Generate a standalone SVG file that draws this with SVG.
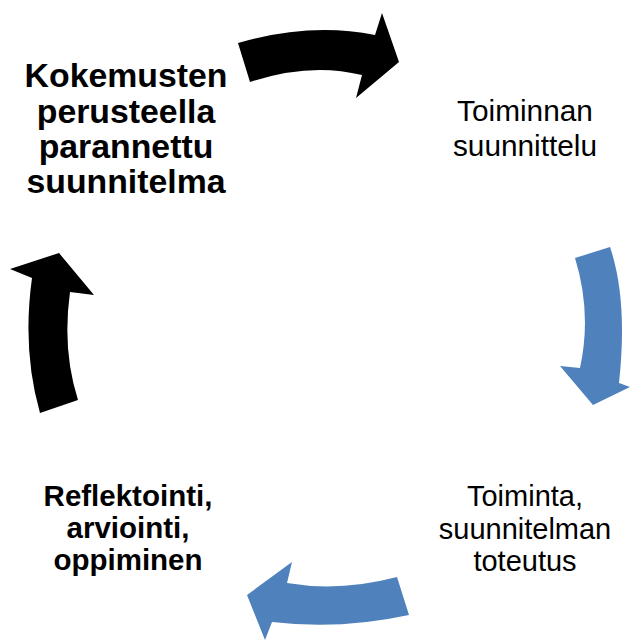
<svg xmlns="http://www.w3.org/2000/svg" width="630" height="642" viewBox="0 0 630 642">
<style>
.blk{fill:#000000}
.blu{fill:#4f81bd}
.tb{font-family:"Liberation Sans",Arial,sans-serif;font-weight:bold;fill:#000;text-anchor:middle}
.tr{font-family:"Liberation Sans",Arial,sans-serif;fill:#000;text-anchor:middle}
</style>
<rect width="630" height="642" fill="#ffffff"/>
<g id="connectors">
<path id="arrow-top" class="blk" d="M238,43 Q310,22 375,35 L382,13 L399,62 L356,98 L362,75 Q310,62 250,82 Z"/>
<path id="arrow-right" class="blu" d="M575,258 L610,247 Q628,300 619,383 L630,387 L593,405 L560,366 L580,368 Q592,313 575,258 Z"/>
<path id="arrow-bottom" class="blu" d="M397,577 Q340,592 287,583 L292,562 L247,595 L265,640 L272,622 Q340,630 409,615 Z"/>
<path id="arrow-left" class="blk" d="M40,413 Q22,350 32,278 L10,269 L59,253 L94,295 L70,292 Q62,350 78,400 Z"/>
</g>
<g id="node-plan">
<text class="tr" font-size="29.8" x="525" y="121">Toiminnan</text>
<text class="tr" font-size="29.8" x="525" y="156">suunnittelu</text>
</g>
<g id="node-action">
<text class="tr" font-size="29" x="525" y="506">Toiminta,</text>
<text class="tr" font-size="29" x="525" y="539">suunnitelman</text>
<text class="tr" font-size="29" x="525" y="571">toteutus</text>
</g>
<g id="node-reflect">
<text class="tb" font-size="29.5" x="128" y="506">Reflektointi,</text>
<text class="tb" font-size="29.5" x="128" y="538">arviointi,</text>
<text class="tb" font-size="29.5" x="128" y="570">oppiminen</text>
</g>
<g id="node-improved">
<text class="tb" font-size="33.8" x="126" y="87">Kokemusten</text>
<text class="tb" font-size="33.8" x="126" y="123">perusteella</text>
<text class="tb" font-size="33.8" x="126" y="158">parannettu</text>
<text class="tb" font-size="33.8" x="126" y="193">suunnitelma</text>
</g>
</svg>
